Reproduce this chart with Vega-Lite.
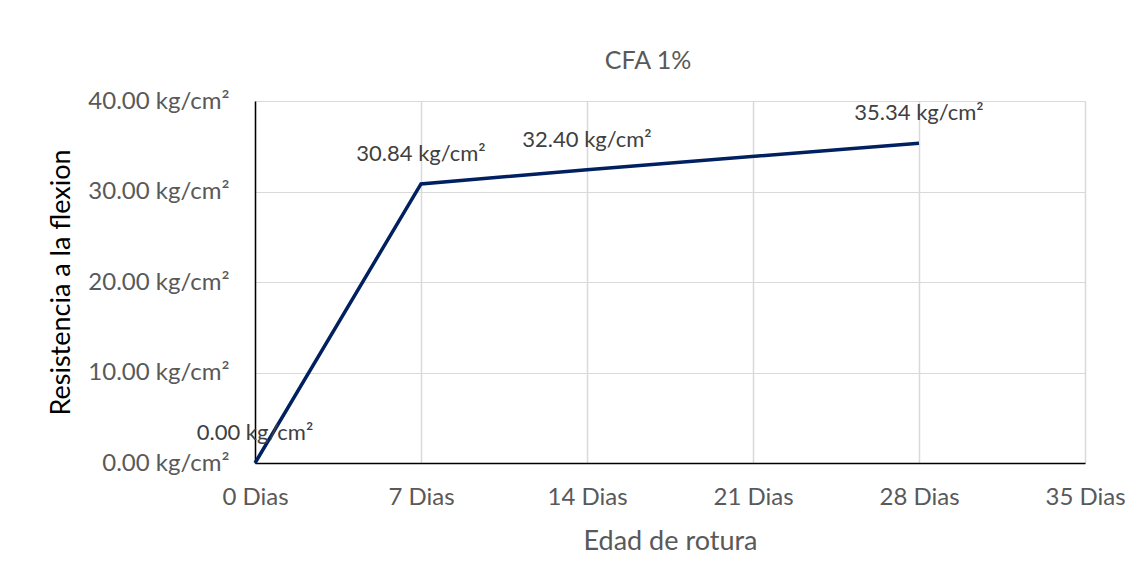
{
  "$schema": "https://vega.github.io/schema/vega-lite/v6.json",
  "width": 830,
  "height": 362,
  "autosize": {"type": "none"},
  "padding": {"left": 255, "top": 101, "right": 51, "bottom": 120},
  "background": "white",
  "config": {
    "font": "Lato",
    "view": {"stroke": null}
  },
  "title": {
    "text": "CFA 1%",
    "fontSize": 25,
    "fontWeight": "normal",
    "color": "#595959",
    "font": "Lato",
    "anchor": "middle",
    "dx": -22,
    "offset": 15
  },
  "data": {
    "values": [
      {"dias": 0, "resistencia": 0.0, "etiqueta": "0.00 kg/cm²"},
      {"dias": 7, "resistencia": 30.84, "etiqueta": "30.84 kg/cm²"},
      {"dias": 14, "resistencia": 32.4, "etiqueta": "32.40 kg/cm²"},
      {"dias": 28, "resistencia": 35.34, "etiqueta": "35.34 kg/cm²"}
    ]
  },
  "encoding": {
    "x": {
      "field": "dias",
      "type": "quantitative",
      "scale": {"domain": [0, 35], "nice": false},
      "axis": {
        "title": "Edad de rotura",
        "values": [0, 7, 14, 21, 28, 35],
        "labelExpr": "datum.value + ' Dias'",
        "labelFlush": false,
        "labelOverlap": false,
        "labelFontSize": 24,
        "labelColor": "#595959",
        "labelPadding": 22,
        "titleFontSize": 27,
        "titleFontWeight": "normal",
        "titleColor": "#595959",
        "titlePadding": 19,
        "domainColor": "#000000",
        "domainWidth": 1.5,
        "ticks": false,
        "grid": true,
        "gridColor": "#d9d9d9",
        "gridWidth": 1.5
      }
    },
    "y": {
      "field": "resistencia",
      "type": "quantitative",
      "scale": {"domain": [0, 40], "nice": false},
      "axis": {
        "title": "Resistencia a la flexion",
        "values": [0, 10, 20, 30, 40],
        "labelExpr": "format(datum.value, '.2f') + ' kg/cm²'",
        "labelFlush": false,
        "labelOverlap": false,
        "labelFontSize": 24,
        "labelColor": "#595959",
        "labelPadding": 26,
        "titleFontSize": 27,
        "titleFontWeight": "normal",
        "titleColor": "#000000",
        "titlePadding": 12,
        "domainColor": "#000000",
        "domainWidth": 1.5,
        "ticks": false,
        "grid": true,
        "gridColor": "#d9d9d9",
        "gridWidth": 1
      }
    }
  },
  "layer": [
    {
      "mark": {"type": "line", "color": "#002060", "strokeWidth": 3.5}
    },
    {
      "mark": {"type": "text", "fontSize": 22, "color": "#404040", "dy": -30, "font": "Lato"},
      "encoding": {"text": {"field": "etiqueta"}}
    }
  ]
}
